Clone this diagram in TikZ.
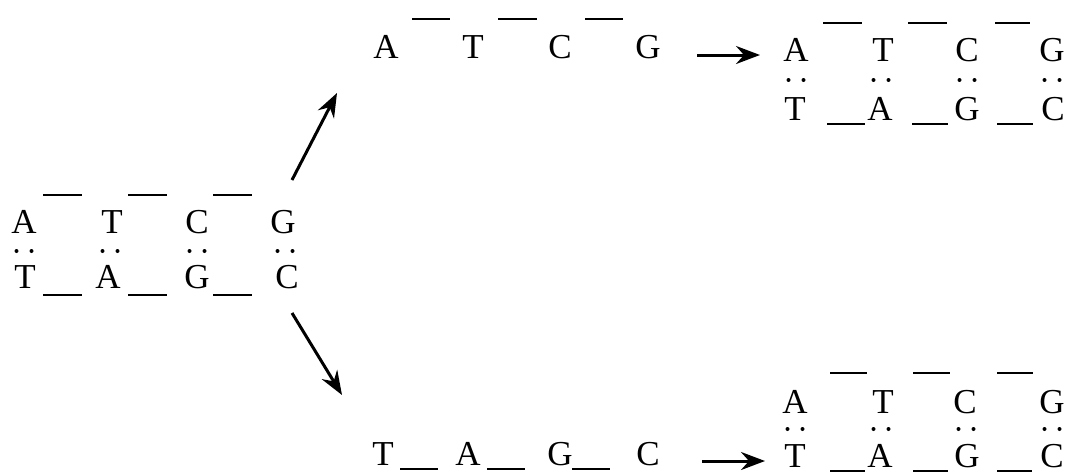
\documentclass[tikz,border=0pt]{standalone}
\usepackage{fontspec}
\setmainfont{Liberation Serif}
\usetikzlibrary{arrows.meta}
\begin{document}
\begin{tikzpicture}[x=1pt,y=-1pt,
  base/.style={inner sep=0pt, font=\fontsize{35}{37}\selectfont},
  bar/.style={line width=2.8pt},
  dotpair/.style={fill=black},
  arr/.style={line width=3pt, -{Stealth[length=24pt,width=18pt,inset=8pt]}}]
\useasboundingbox (0,0) rectangle (1065,474);
% helper for a pair of dots
\newcommand\bpdots[2]{\fill[dotpair] (#1-7.5,#2) circle (2) (#1+7.5,#2) circle (2);}
% ---------- left double strand ----------
\foreach \n/\x/\t in {la1/24/A, la2/112/T, la3/197/C, la4/283/G}
  \node[base] (\n) at (\x,222) {\t};
\foreach \n/\x/\t in {lb1/25/T, lb2/108/A, lb3/197/G, lb4/287/C}
  \node[base] (\n) at (\x,277) {\t};
\foreach \x in {24,110,197,285} {\bpdots{\x}{251}}
\foreach \a/\b in {43/82,128/167,213/252} {
  \draw[bar] (\a,195) -- (\b,195);
  \draw[bar] (\a,295) -- (\b,295);
}
% ---------- top single strand ----------
\foreach \n/\x/\t in {ta1/386/A, ta2/473/T, ta3/560/C, ta4/648/G}
  \node[base] (\n) at (\x,47) {\t};
\foreach \a/\b in {412/450,498/537,585/623}
  \draw[bar] (\a,19) -- (\b,19);
% ---------- bottom single strand ----------
\foreach \n/\x/\t in {ba1/383/T, ba2/468/A, ba3/560/G, ba4/648/C}
  \node[base] (\n) at (\x,454) {\t};
\foreach \a/\b in {400/438,487/525,572/610}
  \draw[bar] (\a,469) -- (\b,469);
% ---------- top right double strand ----------
\foreach \n/\x/\t in {ra1/796/A, ra2/883/T, ra3/967/C, ra4/1052/G}
  \node[base] (\n) at (\x,50) {\t};
\foreach \n/\x/\t in {rb1/795/T, rb2/880/A, rb3/967/G, rb4/1053/C}
  \node[base] (\n) at (\x,109) {\t};
\foreach \x in {796,881,967,1052} {\bpdots{\x}{80}}
\foreach \a/\b in {823/862,908/947,995/1030}
  \draw[bar] (\a,23) -- (\b,23);
\foreach \a/\b in {827/865,912/948,997/1033}
  \draw[bar] (\a,124) -- (\b,124);
% ---------- bottom right double strand ----------
\foreach \n/\x/\t in {sa1/795/A, sa2/883/T, sa3/965/C, sa4/1052/G}
  \node[base] (\n) at (\x,402) {\t};
\foreach \n/\x/\t in {sb1/795/T, sb2/880/A, sb3/967/G, sb4/1052/C}
  \node[base] (\n) at (\x,456) {\t};
\foreach \x in {795,881,966,1052} {\bpdots{\x}{429}}
\foreach \a/\b in {830/867,913/950,997/1033}
  \draw[bar] (\a,373) -- (\b,373);
\foreach \a/\b in {830/865,913/948,997/1032}
  \draw[bar] (\a,471) -- (\b,471);
% ---------- arrows ----------
\coordinate (up-s) at (292,180);
\coordinate (up-e) at (337,93);
\coordinate (dn-s) at (292,313);
\coordinate (dn-e) at (342,395);
\coordinate (th-s) at (697,55);
\coordinate (th-e) at (760,55);
\coordinate (bh-s) at (702,461);
\coordinate (bh-e) at (765,461);
\draw[arr] (up-s) -- (up-e);
\draw[arr] (dn-s) -- (dn-e);
\draw[arr] (th-s) -- (th-e);
\draw[arr] (bh-s) -- (bh-e);
\end{tikzpicture}
\end{document}
